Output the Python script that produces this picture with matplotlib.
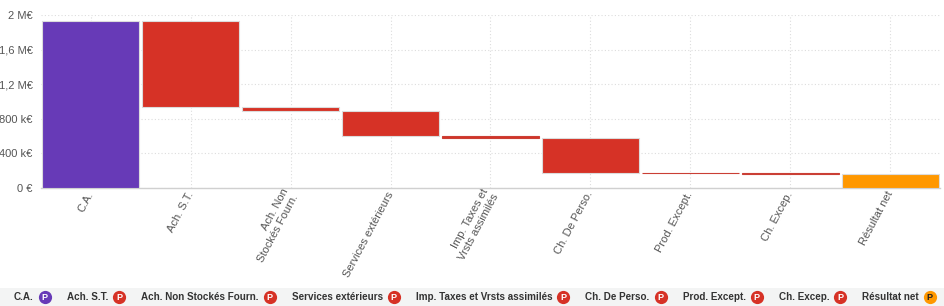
import matplotlib
matplotlib.use("Agg")
import matplotlib.pyplot as plt
import matplotlib.transforms as mtransforms
from matplotlib.colors import to_rgb
from matplotlib.lines import Line2D
from matplotlib.patches import Rectangle
from matplotlib.ticker import FuncFormatter

plt.rcParams["font.family"] = ["Liberation Sans", "DejaVu Sans"]

# valeurs en k€
categories = ["C.A.", "Ach. S.T.", "Ach. Non\nStockés Fourn.", "Services extérieurs",
              "Imp. Taxes et\nVrsts assimilés", "Ch. De Perso.", "Prod. Except.",
              "Ch. Excep.", "Résultat net"]
legend_labels = ["C.A.", "Ach. S.T.", "Ach. Non Stockés Fourn.", "Services extérieurs",
                 "Imp. Taxes et Vrsts assimilés", "Ch. De Perso.", "Prod. Except.",
                 "Ch. Excep.", "Résultat net"]
variations = [1935, -995, -50, -290, -22, -401, -4, -9]
kinds = ["total", "neg", "neg", "neg", "neg", "neg", "neg", "neg", "result"]

colors = {"total": "#673ab7", "neg": "#d63226", "result": "#ff9800"}


def fmt(v, pos):
    if v == 0:
        return "0 €"
    if v >= 1000:
        s = f"{v / 1000:g}".replace(".", ",")
        return f"{s} M€"
    return f"{v:g} k€"


# construction du waterfall
bottoms, heights = [], []
run = 0
for v in variations:
    if v >= 0:
        bottoms.append(run)
        heights.append(v)
    else:
        bottoms.append(run + v)
        heights.append(-v)
    run += v
bottoms.append(0)
heights.append(run)

W, H = 945, 306
fig = plt.figure(figsize=(W / 100, H / 100), dpi=100)
ax = fig.add_axes([41 / W, 1 - 188 / H, 899 / W, 173 / H])

x = list(range(len(categories)))
edges = []
for k, h in zip(kinds, heights):
    if h < 30:
        # barres très fines : bord teinté pour qu'elles restent visibles
        r, g, b = to_rgb(colors[k])
        edges.append((r * 0.85 + 0.08, g * 0.85 + 0.08, b * 0.85 + 0.08))
    else:
        edges.append("#dcdcdc")
ax.bar(x, heights, bottom=bottoms, width=0.97,
       color=[colors[k] for k in kinds], edgecolor=edges, linewidth=0.8, zorder=3)

ax.set_xlim(-0.5, len(categories) - 0.5)
ax.set_ylim(0, 2000)
ax.set_yticks([0, 400, 800, 1200, 1600, 2000])
ax.yaxis.set_major_formatter(FuncFormatter(fmt))
ax.set_xticks(x)
ax.set_xticklabels(categories, rotation=62, ha="right", va="center",
                   rotation_mode="anchor", multialignment="right")
shift = mtransforms.ScaledTranslation(5 / 100, 0, fig.dpi_scale_trans)
for lab in ax.get_xticklabels():
    lab.set_transform(lab.get_transform() + shift)
ax.tick_params(axis="both", length=0, labelsize=8, labelcolor="#555555")
ax.tick_params(axis="x", pad=3)
ax.tick_params(axis="y", pad=6)

ax.grid(True, color="#dddddd", linestyle=(0, (1, 2)), linewidth=0.8, zorder=0)
for s in ["top", "right", "left"]:
    ax.spines[s].set_visible(False)
ax.spines["bottom"].set_color("#d0d0d0")
ax.spines["bottom"].set_linewidth(1)

# bandeau de légende, placé à la main en pixels
fig.patches.append(Rectangle((0, 0), 1, 18 / H, transform=fig.transFigure,
                             facecolor="#f3f4f4", edgecolor="none", zorder=0))
renderer = fig.canvas.get_renderer()
ly = 9 / H
px = 14
for lab, k in zip(legend_labels, kinds):
    t = fig.text(px / W, ly, lab, fontsize=7.1, fontweight="bold", color="#333333",
                 ha="left", va="center")
    w = t.get_window_extent(renderer).width
    cx = px + w + 11
    fig.add_artist(Line2D([cx / W], [ly], transform=fig.transFigure, marker="o",
                          markersize=9.5, markerfacecolor=colors[k],
                          markeredgecolor="none", linestyle="none"))
    fig.text(cx / W, ly, "P", fontsize=6.5, fontweight="bold",
             color="#222222" if k == "result" else "white",
             ha="center", va="center_baseline")
    px = cx + 22

fig.savefig("out.png", dpi=100)
